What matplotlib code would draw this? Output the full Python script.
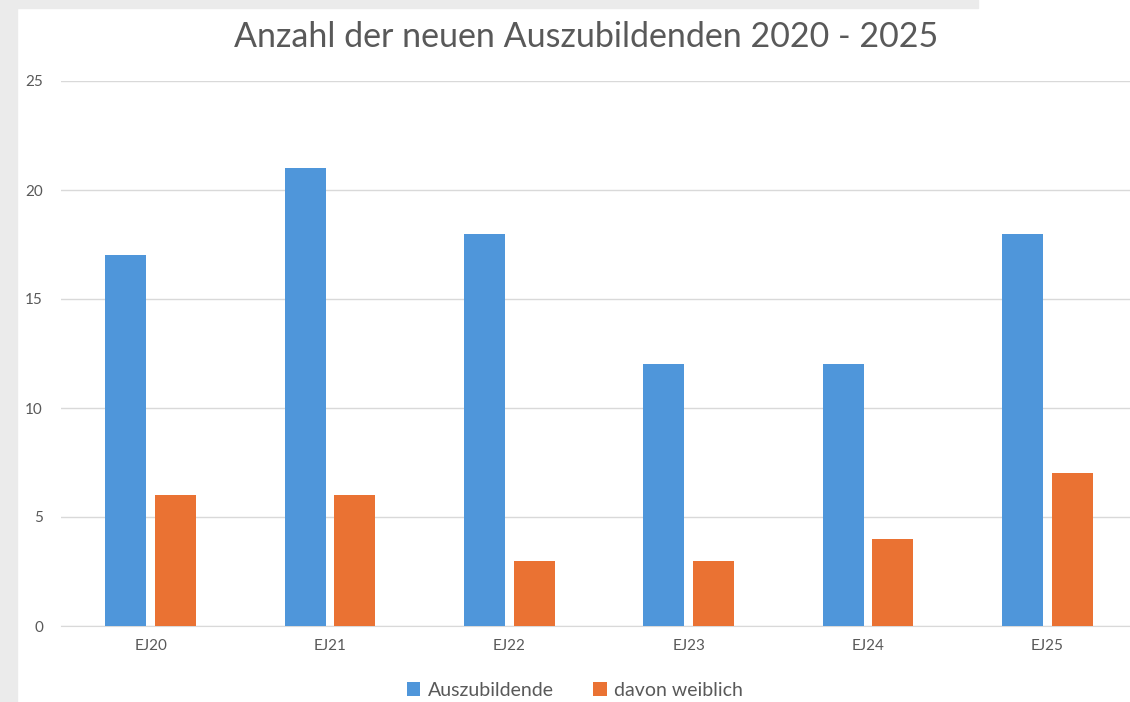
import matplotlib
matplotlib.use("Agg")
import matplotlib.pyplot as plt
from matplotlib.patches import Rectangle
import numpy as np

categories = ["EJ20", "EJ21", "EJ22", "EJ23", "EJ24", "EJ25"]
azubis = [17, 21, 18, 12, 12, 18]
weiblich = [6, 6, 3, 3, 4, 7]
series_names = ["Auszubildende", "davon weiblich"]
yticks = [0, 5, 10, 15, 20, 25]

plt.rcParams['font.family'] = ['Lato', 'DejaVu Sans']
W, H = 1130, 702
fig = plt.figure(figsize=(W/100, H/100), dpi=100)
fig.patch.set_facecolor('white')
# gray frame strips
fig.patches.append(Rectangle((0, 0), 17/W, 1, transform=fig.transFigure, color='#ebebeb', zorder=0))
fig.patches.append(Rectangle((0, 1-8/H), 978/W, 8/H, transform=fig.transFigure, color='#ebebeb', zorder=0))

ax = fig.add_axes([61/W, (H-626)/H, (1137-61)/W, (626-81)/H])
ax.set_facecolor('none')
x = np.arange(len(categories))
bw = 0.229
ax.bar(x - 0.139, azubis, bw, color='#4f96da', label=series_names[0], zorder=3)
ax.bar(x + 0.139, weiblich, bw, color='#ea7233', label=series_names[1], zorder=3)
ax.set_xlim(-0.5, len(categories) - 0.5)
ax.set_ylim(0, 25)
ax.set_yticks(yticks)
ax.set_xticks(x)
ax.set_xticklabels(categories)
ax.grid(axis='y', color='#d9d9d9', linewidth=1, zorder=0)
for s in ['top', 'right', 'left']:
    ax.spines[s].set_visible(False)
ax.spines['bottom'].set_color('#d9d9d9')
ax.tick_params(axis='both', length=0, labelsize=11, labelcolor='#595959')
ax.tick_params(axis='y', pad=13)
ax.tick_params(axis='x', pad=9)
fig.text(586/W, 1-37/H, "Anzahl der neuen Auszubildenden 2020 - 2025", ha='center', va='center',
         fontsize=24.5, color='#595959')
fig.legend(loc='center', bbox_to_anchor=(575/W, 1-690/H), ncol=2, frameon=False,
           fontsize=14, labelcolor='#595959', handlelength=0.7, handleheight=0.7,
           handletextpad=0.4, columnspacing=2.0)
fig.savefig("out.png", dpi=100)
